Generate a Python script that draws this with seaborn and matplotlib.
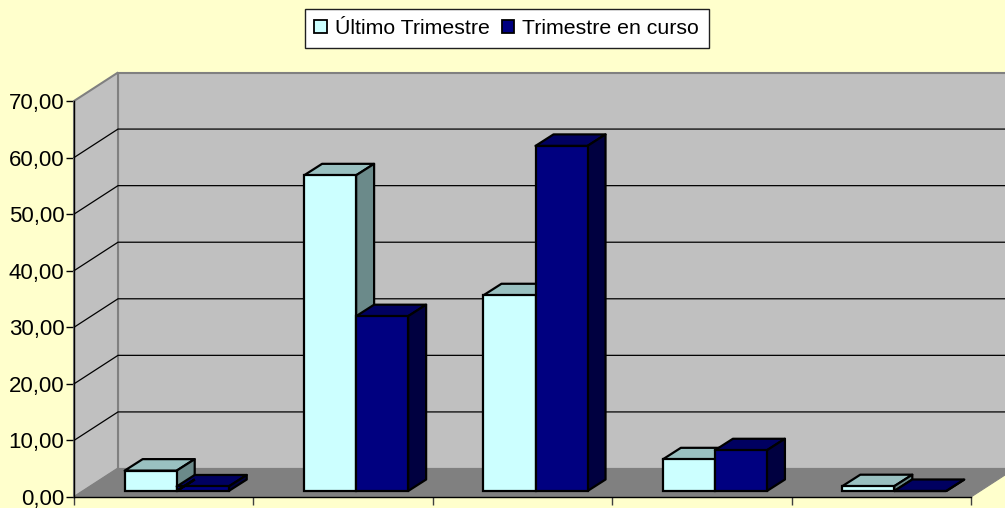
import numpy as np
import pandas as pd
import matplotlib
matplotlib.use("Agg")
import matplotlib.pyplot as plt
from matplotlib.colors import same_color
from matplotlib.patches import Polygon, Rectangle
from matplotlib.ticker import FuncFormatter
import seaborn as sns

categories = ["1", "2", "3", "4", "5"]
ultimo = [3.6, 55.8, 34.6, 5.6, 0.85]
en_curso = [0.8, 30.9, 61.0, 7.2, 0.0]
series_names = ["Último Trimestre", "Trimestre en curso"]
y_ticks = [0, 10, 20, 30, 40, 50, 60, 70]

BG = "#FFFFCC"
LIGHT = ("#CCFFFF", "#99C0C0", "#6B8A8A")
DARK = ("#000080", "#000060", "#000040")

sns.set_theme(style="white")
plt.rcParams["font.family"] = ["Liberation Sans", "DejaVu Sans"]

W, H = 1005, 508
L, R, B, T = 74, 971, 497, 101
fig = plt.figure(figsize=(W / 100, H / 100), dpi=100, facecolor=BG)
ax = fig.add_axes([L / W, (H - B) / H, (R - L) / W, (B - T) / H])
ax.patch.set_alpha(0)

df = pd.DataFrame({
    "cat": categories * 2,
    "serie": [series_names[0]] * 5 + [series_names[1]] * 5,
    "valor": ultimo + en_curso,
})
sns.barplot(data=df, x="cat", y="valor", hue="serie", order=categories,
            hue_order=series_names, palette=[LIGHT[0], DARK[0]], width=0.58,
            gap=0, saturation=1, edgecolor="black", linewidth=1.6, ax=ax)

ax.set_xlim(-0.5, 4.5)
ax.set_ylim(0, 70)
px_x = 5 / (R - L)
px_y = 70 / (B - T)

bars = sorted([p for p in ax.patches if isinstance(p, Rectangle)], key=lambda p: p.get_x())

# 3D frame, derived from the axis limits
wd_x, wd_y = 44 * px_x, 28.5 * px_y
x0, x1 = ax.get_xlim()
y0, y1 = ax.get_ylim()
GREY = "#808080"
ax.add_patch(Polygon([(x0 + wd_x, y0 + wd_y), (x1 + wd_x, y0 + wd_y), (x1 + wd_x, y1 + wd_y), (x0 + wd_x, y1 + wd_y)],
                     fc="#C0C0C0", ec=GREY, lw=1.5, zorder=0.5, clip_on=False))
ax.add_patch(Polygon([(x0, y0), (x0 + wd_x, y0 + wd_y), (x0 + wd_x, y1 + wd_y), (x0, y1)],
                     fc="#C0C0C0", ec=GREY, lw=1.5, zorder=0.6, clip_on=False))
ax.add_patch(Polygon([(x0, y0), (x0 + wd_x, y0 + wd_y), (x1 + wd_x, y0 + wd_y), (x1, y0)],
                     fc=GREY, ec=GREY, lw=0.8, zorder=0.7, clip_on=False))
for v in y_ticks[1:-1]:
    ax.plot([x0, x0 + wd_x, x1 + wd_x], [v, v + wd_y, v + wd_y], color="black", lw=0.9,
            zorder=0.8, clip_on=False)

# bars: shift the fronts into the floor and add their top and side faces
ox, oy = 13 * px_x, 6 * px_y
bd_x, bd_y = 18 * px_x, 11.5 * px_y
for i, p in enumerate(bars):
    cols = LIGHT if same_color(p.get_facecolor(), LIGHT[0]) else DARK
    x, w, h = p.get_x() + ox, p.get_width(), p.get_height()
    y = oy
    p.set_x(x)
    p.set_y(y)
    p.set_clip_on(False)
    z = 3 + i
    p.set_zorder(z + 0.2)
    ax.add_patch(Polygon([(x, y + h), (x + bd_x, y + h + bd_y), (x + w + bd_x, y + h + bd_y), (x + w, y + h)],
                         fc=cols[1], ec="black", lw=1.6, joinstyle="round", zorder=z, clip_on=False))
    ax.add_patch(Polygon([(x + w, y), (x + w + bd_x, y + bd_y), (x + w + bd_x, y + h + bd_y), (x + w, y + h)],
                         fc=cols[2], ec="black", lw=1.6, joinstyle="round", zorder=z + 0.1, clip_on=False))

# axes
ax.set_yticks(y_ticks)
ax.yaxis.set_major_formatter(FuncFormatter(lambda v, _: f"{v:.2f}".replace(".", ",")))
ax.set_xticks(np.arange(x0, x1 + 0.5))
ax.set_xticklabels([])
ax.set_xlabel("")
ax.set_ylabel("")
ax.tick_params(axis="y", length=6, width=1, color="black", labelsize=16, labelcolor="black", pad=1, left=True)
ax.tick_params(axis="x", length=6, width=1, color="#404040", bottom=True)
for s in ("top", "right"):
    ax.spines[s].set_visible(False)
for s in ("left", "bottom"):
    ax.spines[s].set_color("black")
    ax.spines[s].set_linewidth(1)

sns.move_legend(ax, "center", bbox_to_anchor=(506.7 / W, (H - 28.5) / H),
                bbox_transform=fig.transFigure, ncols=2, title=None, frameon=True,
                fancybox=False, framealpha=1, facecolor="white", edgecolor="#202020",
                fontsize=15.3, handlelength=0.6, handleheight=0.6, handletextpad=0.38,
                columnspacing=0.55, borderpad=0.45, borderaxespad=0)
leg = ax.get_legend()
leg.get_frame().set_linewidth(1)
leg.set_zorder(20)
for t in leg.get_texts():
    t.set_color("black")
for h in leg.legend_handles:
    h.set_edgecolor("black")
    h.set_linewidth(1.3)

fig.savefig("out.png", dpi=100, facecolor=BG)
